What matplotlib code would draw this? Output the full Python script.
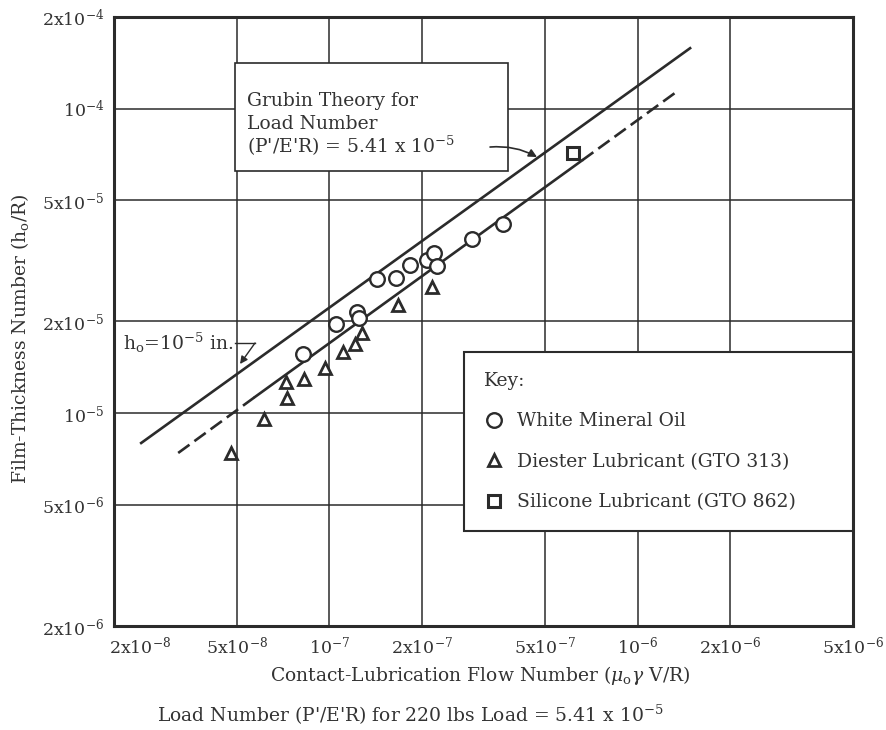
import matplotlib
matplotlib.use('Agg')
import matplotlib.pyplot as plt
from matplotlib.patches import Rectangle
from matplotlib.ticker import NullLocator
from matplotlib.transforms import ScaledTranslation

plt.rcParams['font.family'] = ['DejaVu Serif']
plt.rcParams['mathtext.fontset'] = 'dejavuserif'

# White Mineral Oil
oil_x = [8.21e-8, 1.05e-7, 1.23e-7, 1.25e-7, 1.43e-7, 1.64e-7, 1.83e-7, 2.07e-7, 2.18e-7, 2.23e-7, 2.90e-7, 3.66e-7]
oil_y = [1.57e-5, 1.96e-5, 2.15e-5, 2.05e-5, 2.76e-5, 2.78e-5, 3.07e-5, 3.18e-5, 3.36e-5, 3.04e-5, 3.73e-5, 4.18e-5]

# Diester Lubricant (GTO 313)
diester_x = [4.79e-8, 6.13e-8, 7.29e-8, 7.23e-8, 8.27e-8, 9.67e-8, 1.11e-7, 1.21e-7, 1.28e-7, 1.67e-7, 2.15e-7]
diester_y = [7.40e-6, 9.56e-6, 1.12e-5, 1.27e-5, 1.29e-5, 1.41e-5, 1.59e-5, 1.69e-5, 1.83e-5, 2.27e-5, 2.60e-5]

# Silicone Lubricant (GTO 862)
silicone_x = [6.17e-7]
silicone_y = [7.15e-5]

# Grubin theory line
grubin_x = [2.45e-8, 1.48e-6]
grubin_y = [7.98e-6, 1.58e-4]

# h_o = 1e-5 in. line (dashed, solid, dashed)
fit_x = [3.23e-8, 5.73e-8, 6.60e-7, 1.32e-6]
fit_y = [7.40e-6, 1.13e-5, 6.76e-5, 1.125e-4]

xticks = [2e-8, 5e-8, 1e-7, 2e-7, 5e-7, 1e-6, 2e-6, 5e-6]
xtick_labels = ['2x10$^{-8}$', '5x10$^{-8}$', '10$^{-7}$', '2x10$^{-7}$',
                '5x10$^{-7}$', '10$^{-6}$', '2x10$^{-6}$', '5x10$^{-6}$']
yticks = [2e-6, 5e-6, 1e-5, 2e-5, 5e-5, 1e-4, 2e-4]
ytick_labels = ['2x10$^{-6}$', '5x10$^{-6}$', '10$^{-5}$', '2x10$^{-5}$',
                '5x10$^{-5}$', '10$^{-4}$', '2x10$^{-4}$']

ink = '#2b2b2b'
txt = '#333333'
fs = 13.5

fig = plt.figure(figsize=(8.86, 7.3), dpi=100)
ax = fig.add_axes([0.1287, 0.1425, 0.8341, 0.8342])
ax.set_xscale('log')
ax.set_yscale('log')
ax.set_xlim(2e-8, 5e-6)
ax.set_ylim(2e-6, 2e-4)
ax.set_xticks(xticks)
ax.set_xticklabels(xtick_labels)
ax.set_yticks(yticks)
ax.set_yticklabels(ytick_labels)
ax.xaxis.set_minor_locator(NullLocator())
ax.yaxis.set_minor_locator(NullLocator())
ax.tick_params(length=0, pad=7, labelsize=12.5, labelcolor=txt)
# first x label sits a bit right of its gridline, clear of the y labels
first = ax.get_xticklabels()[0]
first.set_transform(first.get_transform() + ScaledTranslation(0.26, 0, fig.dpi_scale_trans))
ax.set_axisbelow(True)
ax.grid(True, which='major', color=ink, lw=1.1)
for s in ax.spines.values():
    s.set_linewidth(2.2)
    s.set_color(ink)

# lines
ax.plot(grubin_x, grubin_y, color=ink, lw=1.9, zorder=2)
ax.plot(fit_x[0:2], fit_y[0:2], color=ink, lw=1.9, ls=(0, (5.3, 2.3)), zorder=2)
ax.plot(fit_x[1:3], fit_y[1:3], color=ink, lw=1.9, zorder=2)
ax.plot(fit_x[2:4], fit_y[2:4], color=ink, lw=1.9, ls=(0, (5.3, 2.3)), zorder=2)

# data points
ax.plot(oil_x, oil_y, 'o', ms=10.5, mfc='white', mec=ink, mew=1.7, zorder=3,
        label='White Mineral Oil')
ax.plot(diester_x, diester_y, '^', ms=8.5, mfc='white', mec=ink, mew=2.0, zorder=3,
        label='Diester Lubricant (GTO 313)')
ax.plot(silicone_x, silicone_y, 's', ms=8.5, mfc='white', mec=ink, mew=2.2, zorder=3,
        label='Silicone Lubricant (GTO 862)')

# Grubin theory box
ax.add_patch(Rectangle((0.1637, 0.747), 0.3693, 0.1775, transform=ax.transAxes,
                       fc='white', ec=ink, lw=1.2, zorder=1.5))
ax.text(0.18, 0.8539, 'Grubin Theory for', transform=ax.transAxes, fontsize=fs,
        color=txt, va='baseline', zorder=4)
ax.text(0.18, 0.8161, 'Load Number', transform=ax.transAxes, fontsize=fs,
        color=txt, va='baseline', zorder=4)
ax.text(0.18, 0.7767, "(P'/E'R) = 5.41 x 10$^{-5}$", transform=ax.transAxes,
        fontsize=fs, color=txt, va='baseline', zorder=4)
ax.annotate('', xy=(0.5724, 0.7701), xytext=(0.5088, 0.7865), xycoords='axes fraction',
            arrowprops=dict(arrowstyle='-|>', color=ink, lw=1.2, mutation_scale=12,
                            shrinkA=0, shrinkB=0, connectionstyle='arc3,rad=-0.15'))

# h_o annotation
ax.text(0.0122, 0.4532, 'h$_{\\mathrm{o}}$=10$^{-5}$ in.', transform=ax.transAxes,
        fontsize=fs, color=txt, va='baseline', zorder=4)
ax.plot([0.1637, 0.1908], [0.4647, 0.4647], transform=ax.transAxes, color=ink, lw=1.0)
ax.annotate('', xy=(0.1705, 0.4302), xytext=(0.1908, 0.4647), xycoords='axes fraction',
            arrowprops=dict(arrowstyle='-|>', color=ink, lw=1.0, mutation_scale=11,
                            shrinkA=0, shrinkB=0))

# key
leg = ax.legend(loc='upper left', bbox_to_anchor=(0.4736, 0.0, 0.5264, 0.45),
                mode='expand', borderaxespad=0, title='Key:', alignment='left',
                fontsize=fs, title_fontsize=fs, fancybox=False, framealpha=1,
                edgecolor=ink, handlelength=1.1, handletextpad=0.7,
                borderpad=1.05, labelspacing=1.2)
leg.get_frame().set_linewidth(1.5)
for t in leg.get_texts():
    t.set_color(txt)
leg.get_title().set_color(txt)

fig.text(0.0226, 0.5356, 'Film-Thickness Number (h$_{\\mathrm{o}}$/R)', rotation=90,
         ha='center', va='center', fontsize=fs, color=txt)
fig.text(0.5418, 0.0671, 'Contact-Lubrication Flow Number ($\\mu_{\\mathrm{o}}\\gamma$ V/R)',
         ha='center', va='baseline', fontsize=fs, color=txt)
fig.text(0.4628, 0.011, "Load Number (P'/E'R) for 220 lbs Load = 5.41 x 10$^{-5}$",
         ha='center', va='baseline', fontsize=fs, color=txt)

fig.savefig('out.png', dpi=100)
